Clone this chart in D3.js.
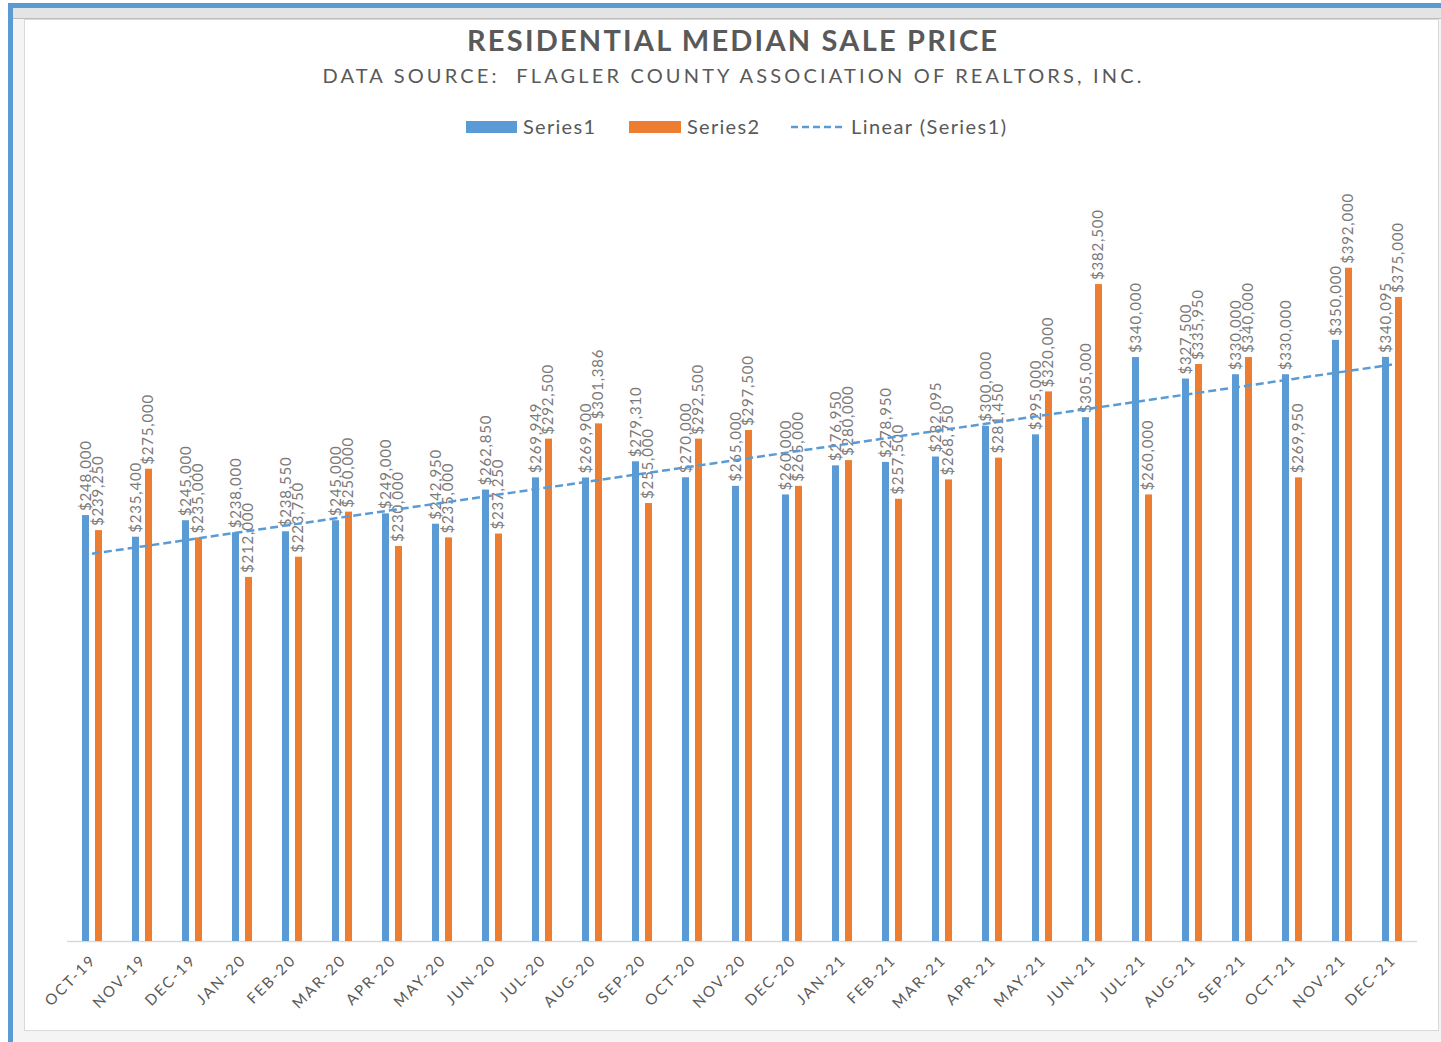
<!DOCTYPE html>
<meta charset="utf-8">
<script src="https://d3js.org/d3.v7.min.js"></script>
<style>
  body { margin: 0; background: #fff; }
  text { font-family: Lato, "Open Sans", sans-serif; }
</style>
<svg width="1441" height="1042"></svg>
<script>

    const months = ["OCT-19", "NOV-19", "DEC-19", "JAN-20", "FEB-20", "MAR-20", "APR-20", "MAY-20", "JUN-20",
        "JUL-20", "AUG-20", "SEP-20", "OCT-20", "NOV-20", "DEC-20", "JAN-21", "FEB-21", "MAR-21", "APR-21",
        "MAY-21", "JUN-21", "JUL-21", "AUG-21", "SEP-21", "OCT-21", "NOV-21", "DEC-21"];

    const series1 = [248000, 235400, 245000, 238000, 238550, 245000, 249000, 242950, 262850,
        269949, 269900, 279310, 270000, 265000, 260000, 276950, 278950, 282095, 300000,
        295000, 305000, 340000, 327500, 330000, 330000, 350000, 340095];

    const series2 = [239250, 275000, 235000, 212000, 223750, 250000, 230000, 235000, 237250,
        292500, 301386, 255000, 292500, 297500, 265000, 280000, 257500, 268750, 281450,
        320000, 382500, 260000, 335950, 340000, 269950, 392000, 375000];

    const seriesNames = ["Series1", "Series2"];
    const colors = {Series1: "#5b9bd5", Series2: "#ed7d31"};

    const svg = d3.select("svg");

    // window frame around the chart
    svg.append("rect").attr("x", 8).attr("y", 3).attr("width", 1433).attr("height", 1039).attr("fill", "#5b9bd5");
    svg.append("rect").attr("x", 13).attr("y", 8).attr("width", 1428).attr("height", 1034).attr("fill", "#f4f4f4");
    svg.append("rect").attr("x", 13).attr("y", 8).attr("width", 1428).attr("height", 10).attr("fill", "#e4e4e4");
    svg.append("line").attr("x1", 13).attr("x2", 1441).attr("y1", 18.5).attr("y2", 18.5).attr("stroke", "#bdbdbd");
    svg.append("rect").attr("x", 24.5).attr("y", 19.5).attr("width", 1414).attr("height", 1011)
        .attr("fill", "#fff").attr("stroke", "#d9d9d9");

    const x = d3.scaleBand().domain(months).range([67, 1417]);
    const xInner = d3.scaleBand().domain(seriesNames).range([-10, 10]).paddingInner(0.4615);
    const y = d3.scaleLinear().domain([0, 400000]).range([941, 254]);
    const center = m => x(m) + x.bandwidth() / 2;
    const fmt = d3.format("$,");

    // title + subtitle
    svg.append("text").attr("x", 732).attr("y", 51).attr("text-anchor", "middle")
        .attr("font-size", 29).attr("font-weight", "bold").attr("fill", "#595959")
        .attr("textLength", 530).attr("lengthAdjust", "spacing")
        .text("RESIDENTIAL MEDIAN SALE PRICE");
    svg.append("text").attr("x", 732).attr("y", 83).attr("text-anchor", "middle")
        .attr("font-size", 20).attr("fill", "#595959")
        .attr("textLength", 819).attr("lengthAdjust", "spacing")
        .style("white-space", "pre")
        .text("DATA SOURCE:  FLAGLER COUNTY ASSOCIATION OF REALTORS, INC.");

    // legend
    const legend = svg.append("g").attr("font-size", 20).attr("fill", "#595959");
    legend.append("rect").attr("x", 466).attr("y", 121).attr("width", 51).attr("height", 12).attr("fill", colors.Series1);
    legend.append("text").attr("x", 523).attr("y", 134).attr("textLength", 72).text("Series1");
    legend.append("rect").attr("x", 629).attr("y", 121).attr("width", 52).attr("height", 12).attr("fill", colors.Series2);
    legend.append("text").attr("x", 687).attr("y", 134).attr("textLength", 72).text("Series2");
    legend.append("line").attr("x1", 791).attr("x2", 845).attr("y1", 127).attr("y2", 127)
        .attr("stroke", colors.Series1).attr("stroke-width", 2.5).attr("stroke-dasharray", "7,4");
    legend.append("text").attr("x", 851).attr("y", 134).attr("textLength", 155).text("Linear (Series1)");

    // axis line
    svg.append("line").attr("x1", 67).attr("x2", 1417).attr("y1", 941.5).attr("y2", 941.5)
        .attr("stroke", "#d9d9d9").attr("stroke-width", 1.5);

    const rows = months.map((m, i) => ({m, Series1: series1[i], Series2: series2[i]}));

    const groups = svg.append("g").selectAll("g")
        .data(rows).join("g")
        .attr("transform", d => "translate(" + center(d.m) + ",0)");

    groups.selectAll("rect")
        .data(d => seriesNames.map(k => ({k, v: d[k]})))
        .join("rect")
        .attr("x", d => xInner(d.k))
        .attr("width", xInner.bandwidth())
        .attr("y", d => y(d.v))
        .attr("height", d => y(0) - y(d.v))
        .attr("fill", d => colors[d.k]);

    // trend line (least squares over Series1)
    const n = series1.length;
    const idx = d3.range(1, n + 1);
    const mx = d3.mean(idx), my = d3.mean(series1);
    const slope = d3.sum(idx, (t, i) => (t - mx) * (series1[i] - my)) / d3.sum(idx, t => (t - mx) * (t - mx));
    const icpt = my - slope * mx;
    svg.append("path")
        .datum(months.map((m, i) => [center(m), y(icpt + slope * (i + 1))]))
        .attr("d", d3.line())
        .attr("fill", "none")
        .attr("stroke", colors.Series1)
        .attr("stroke-width", 2.5)
        .attr("stroke-dasharray", "8,4");

    // data labels
    groups.selectAll("text")
        .data(d => seriesNames.map(k => ({k, v: d[k]})))
        .join("text")
        .attr("transform", d => "translate(" + (xInner(d.k) + xInner.bandwidth() / 2 + 5) + "," + (y(d.v) - 4) + ") rotate(-90)")
        .attr("font-size", 15)
        .attr("letter-spacing", 0.8)
        .attr("fill", "#7a7a7a")
        .text(d => fmt(d.v));

    // x tick labels
    svg.append("g").selectAll("text")
        .data(months).join("text")
        .attr("transform", m => "translate(" + (center(m) + 5) + ",961) rotate(-45)")
        .attr("text-anchor", "end")
        .attr("font-size", 15)
        .attr("letter-spacing", 2)
        .attr("fill", "#595959")
        .text(m => m);

</script>
